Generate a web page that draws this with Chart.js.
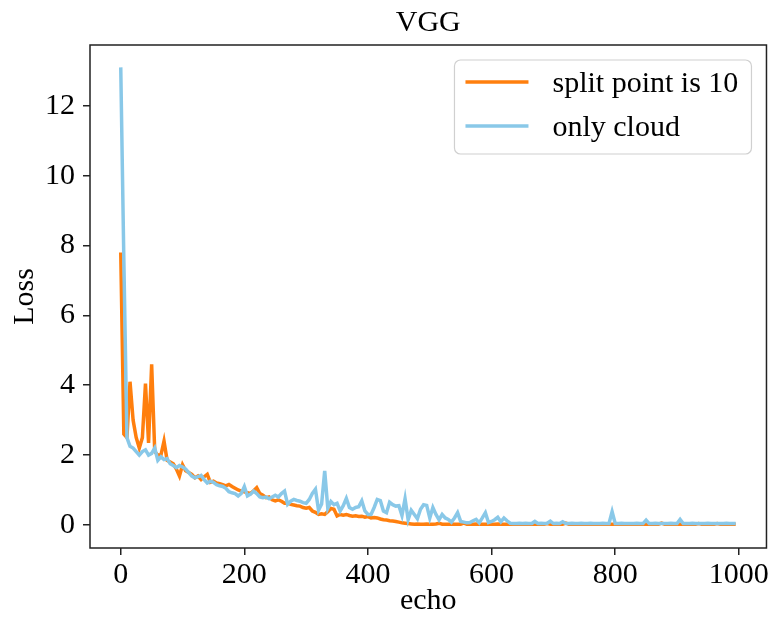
<!DOCTYPE html>
<html>
<head>
<meta charset="utf-8">
<title>VGG</title>
<script src="https://cdn.jsdelivr.net/npm/chart.js@4/dist/chart.umd.min.js"></script>
<style>
    body { margin: 0; background: #fff; }
    canvas { display: block; }
</style>
</head>
<body>
<canvas id="loss-chart" width="771" height="621"></canvas>
<script>
const epochs = Array.from({ length: 200 }, (_, i) => i * 5);

const splitLoss = [
    7.8, 2.6, 2.5, 4.1, 3.0, 2.5, 2.2, 2.5, 4.05, 2.35,
    4.6, 2.1, 2.0, 2.0, 2.4, 1.85, 1.8, 1.75, 1.6, 1.4,
    1.72, 1.55, 1.5, 1.45, 1.35, 1.4, 1.3, 1.38, 1.45, 1.22,
    1.25, 1.2, 1.18, 1.15, 1.12, 1.16, 1.1, 1.05, 1.0, 0.97,
    0.95, 0.92, 0.9, 0.98, 1.07, 0.9, 0.85, 0.78, 0.8, 0.72,
    0.69, 0.72, 0.68, 0.62, 0.63, 0.59, 0.57, 0.55, 0.54, 0.5,
    0.48, 0.5, 0.4, 0.36, 0.3, 0.32, 0.3, 0.38, 0.47, 0.45,
    0.26, 0.3, 0.28, 0.3, 0.27, 0.25, 0.26, 0.24, 0.25, 0.22,
    0.24, 0.2, 0.21, 0.2, 0.17, 0.15, 0.14, 0.12, 0.11, 0.1,
    0.08, 0.06, 0.05, 0.04, 0.03, 0.02, 0.03, 0.02, 0.02, 0.03,
    0.02, 0.02, 0.03, 0.05, 0.02, 0.02, 0.02, 0.03, 0.02, 0.02,
    0.02, 0.05, 0.02, 0.02, 0.02, 0.03, 0.02, 0.02, 0.02, 0.02,
    0.02, 0.02, 0.03, 0.02, 0.02, 0.02, 0.02, 0.02, 0.03, 0.02,
    0.02, 0.02, 0.02, 0.02, 0.03, 0.02, 0.02, 0.02, 0.04, 0.02,
    0.02, 0.02, 0.02, 0.02, 0.05, 0.02, 0.02, 0.02, 0.02, 0.03,
    0.02, 0.02, 0.02, 0.02, 0.02, 0.02, 0.03, 0.02, 0.02, 0.02,
    0.02, 0.02, 0.02, 0.02, 0.02, 0.03, 0.02, 0.02, 0.02, 0.02,
    0.02, 0.02, 0.02, 0.02, 0.02, 0.05, 0.02, 0.02, 0.02, 0.02,
    0.02, 0.02, 0.02, 0.02, 0.02, 0.02, 0.02, 0.04, 0.02, 0.02,
    0.02, 0.02, 0.02, 0.04, 0.02, 0.02, 0.02, 0.02, 0.02, 0.02
];

const cloudLoss = [
    13.1, 7.6, 2.5, 2.25, 2.2, 2.1, 2.0, 2.1, 2.15, 2.0,
    2.05, 2.2, 1.85, 1.95, 1.87, 1.9, 1.75, 1.7, 1.64, 1.7,
    1.66, 1.6, 1.5, 1.4, 1.35, 1.38, 1.42, 1.3, 1.2, 1.25,
    1.22, 1.15, 1.12, 1.1, 1.05, 0.95, 0.92, 0.9, 0.83, 0.9,
    1.1, 0.83, 0.88, 0.97, 0.9, 0.8, 0.78, 0.8, 0.75, 0.8,
    0.85, 0.8, 0.9, 0.97, 0.59, 0.68, 0.73, 0.7, 0.68, 0.64,
    0.62, 0.73, 0.9, 1.02, 0.42, 0.6, 1.55, 0.48, 0.67, 0.58,
    0.62, 0.4, 0.55, 0.76, 0.5, 0.45, 0.5, 0.52, 0.69, 0.4,
    0.3, 0.3, 0.5, 0.73, 0.7, 0.4, 0.35, 0.65, 0.58, 0.54,
    0.55, 0.27, 0.75, 0.15, 0.42, 0.3, 0.18, 0.45, 0.58, 0.56,
    0.2, 0.5, 0.3, 0.15, 0.3, 0.2, 0.16, 0.08, 0.2, 0.35,
    0.1, 0.08, 0.06, 0.07, 0.12, 0.16, 0.06, 0.2, 0.35, 0.07,
    0.1, 0.15, 0.22, 0.09, 0.2, 0.12, 0.05, 0.04, 0.04, 0.05,
    0.04, 0.05, 0.04, 0.04, 0.1, 0.04, 0.05, 0.04, 0.05, 0.11,
    0.04, 0.05, 0.04, 0.09, 0.04, 0.04, 0.05, 0.04, 0.04, 0.05,
    0.04, 0.04, 0.05, 0.04, 0.04, 0.04, 0.05, 0.04, 0.04, 0.38,
    0.04, 0.04, 0.05, 0.04, 0.04, 0.04, 0.04, 0.05, 0.04, 0.04,
    0.14, 0.04, 0.04, 0.05, 0.04, 0.04, 0.04, 0.04, 0.05, 0.04,
    0.04, 0.16, 0.04, 0.04, 0.04, 0.05, 0.04, 0.04, 0.04, 0.04,
    0.05, 0.04, 0.04, 0.04, 0.04, 0.04, 0.05, 0.04, 0.04, 0.04
];

const xTicks = [0, 200, 400, 600, 800, 1000];
const yTicks = [0, 2, 4, 6, 8, 10, 12];

const FONT = "'Liberation Serif', 'Times New Roman', serif";
const AXIS_COLOR = '#222';

// full box around the plot area (matplotlib spines)
const frame = {
    id: 'frame',
    afterDatasetsDraw(chart) {
        const { ctx, chartArea: a } = chart;
        ctx.save();
        ctx.strokeStyle = AXIS_COLOR;
        ctx.lineWidth = 1.5;
        ctx.strokeRect(a.left, a.top, a.right - a.left, a.bottom - a.top);
        ctx.restore();
    }
};

// legend box in the upper right corner of the plot
const cornerLegend = {
    id: 'cornerLegend',
    afterDraw(chart) {
        const { ctx, chartArea: a } = chart;
        const right = a.right - 15;
        const top = a.top + 15;
        const w = 297;
        const h = 94;
        const left = right - w;

        ctx.save();
        ctx.beginPath();
        ctx.roundRect(left, top, w, h, 6);
        ctx.fillStyle = 'rgba(255,255,255,0.8)';
        ctx.fill();
        ctx.strokeStyle = '#d0d0d0';
        ctx.lineWidth = 1.2;
        ctx.stroke();

        ctx.font = '30px ' + FONT;
        ctx.textBaseline = 'middle';
        ctx.fillStyle = '#000';
        chart.data.datasets.forEach((ds, i) => {
            const y = top + 22 + i * 44;
            ctx.beginPath();
            ctx.moveTo(left + 11, y);
            ctx.lineTo(left + 74, y);
            ctx.strokeStyle = ds.borderColor;
            ctx.lineWidth = 3.5;
            ctx.stroke();
            ctx.fillText(ds.label, left + 98, y + 2);
        });
        ctx.restore();
    }
};

function initChart() {
    const ctx = document.getElementById('loss-chart');

    new Chart(ctx, {
        type: 'line',
        data: {
            datasets: [{
                label: 'split point is 10',
                data: epochs.map((e, i) => ({ x: e, y: splitLoss[i] })),
                borderColor: '#ff7f0e',
                borderWidth: 3.5,
                pointRadius: 0,
                tension: 0,
                order: 2
            }, {
                label: 'only cloud',
                data: epochs.map((e, i) => ({ x: e, y: cloudLoss[i] })),
                borderColor: '#89c8e8',
                borderWidth: 3.5,
                pointRadius: 0,
                tension: 0,
                order: 1
            }]
        },
        options: {
            responsive: false,
            animation: false,
            devicePixelRatio: 1,
            layout: {
                padding: { left: 0, right: 4, top: 0, bottom: 0 }
            },
            plugins: {
                legend: { display: false },
                tooltip: { enabled: false },
                title: {
                    display: true,
                    text: 'VGG',
                    fullSize: false,
                    color: '#000',
                    font: { family: FONT, size: 30, weight: 'normal' },
                    padding: { top: 5, bottom: 4 }
                }
            },
            scales: {
                x: {
                    type: 'linear',
                    min: -49.75,
                    max: 1044.75,
                    afterBuildTicks: scale => {
                        scale.ticks = xTicks.map(v => ({ value: v }));
                    },
                    afterFit: scale => {
                        scale.height = 73;
                    },
                    border: { display: false },
                    grid: {
                        drawOnChartArea: false,
                        drawTicks: true,
                        tickLength: 7,
                        color: AXIS_COLOR,
                        lineWidth: 1.5
                    },
                    ticks: {
                        color: '#000',
                        padding: 2,
                        maxRotation: 0,
                        font: { family: FONT, size: 30 },
                        callback: value => String(value)
                    },
                    title: {
                        display: true,
                        text: 'echo',
                        color: '#000',
                        font: { family: FONT, size: 30 },
                        padding: { top: 0, bottom: 2 }
                    }
                },
                y: {
                    type: 'linear',
                    min: -0.66,
                    max: 13.74,
                    afterBuildTicks: scale => {
                        scale.ticks = yTicks.map(v => ({ value: v }));
                    },
                    afterFit: scale => {
                        scale.width = 90;
                    },
                    border: { display: false },
                    grid: {
                        drawOnChartArea: false,
                        drawTicks: true,
                        tickLength: 7,
                        color: AXIS_COLOR,
                        lineWidth: 1.5
                    },
                    ticks: {
                        color: '#000',
                        padding: 8,
                        font: { family: FONT, size: 30 },
                        callback: value => String(value)
                    },
                    title: {
                        display: true,
                        text: 'Loss',
                        color: '#000',
                        font: { family: FONT, size: 30 },
                        padding: { top: 7, bottom: 0 }
                    }
                }
            }
        },
        plugins: [frame, cornerLegend]
    });
}

document.addEventListener('DOMContentLoaded', initChart);
</script>
</body>
</html>
